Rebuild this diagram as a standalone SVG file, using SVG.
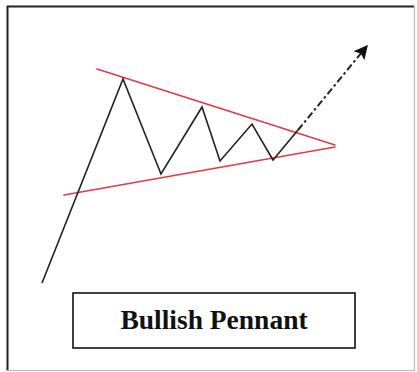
<svg xmlns="http://www.w3.org/2000/svg" width="417" height="372" viewBox="0 0 417 372">
<style>
.frame{stroke:#222;stroke-width:2;fill:none}
.frame2{stroke:#bbb;stroke-width:1.2;fill:none}
.red{stroke:#e23a45;stroke-width:1.6;fill:none;stroke-linecap:round}
.price{stroke:#222;stroke-width:1.6;fill:none;stroke-linejoin:miter}
.dash{stroke:#222;stroke-width:2;fill:none;stroke-dasharray:7 3 2.5 3}
.label{font-family:"Liberation Serif","Times New Roman",serif;font-weight:bold;font-size:27.5px;fill:#111}
</style>
<defs>
<marker id="ah" viewBox="0 0 10 10" refX="9" refY="5" markerWidth="7" markerHeight="7" markerUnits="strokeWidth" orient="auto">
<path d="M0,0 L10,5 L0,10 L2,5 Z" fill="#111"/>
</marker>
</defs>
<rect width="417" height="372" fill="#fff"/>
<g id="frame">
<path class="frame" d="M7.5,371 V6.5 H414"/>
<path class="frame2" d="M414.5,6 V370.5 H7"/>
</g>
<g id="pennant">
<line class="red" x1="97" y1="69" x2="335" y2="145"/>
<line class="red" x1="64" y1="195" x2="335" y2="147"/>
</g>
<g id="connectors">
<polyline class="price" points="42,283 123,79 161,174 202,107 220,161 252,124 273,160 298,130"/>
<line class="dash" x1="298" y1="130" x2="367" y2="46" marker-end="url(#ah)"/>
</g>
<g id="label">
<rect x="73" y="293" width="282" height="55" fill="#fff" stroke="#111" stroke-width="1.6"/>
<text class="label" x="214" y="329" text-anchor="middle">Bullish Pennant</text>
</g>
</svg>
